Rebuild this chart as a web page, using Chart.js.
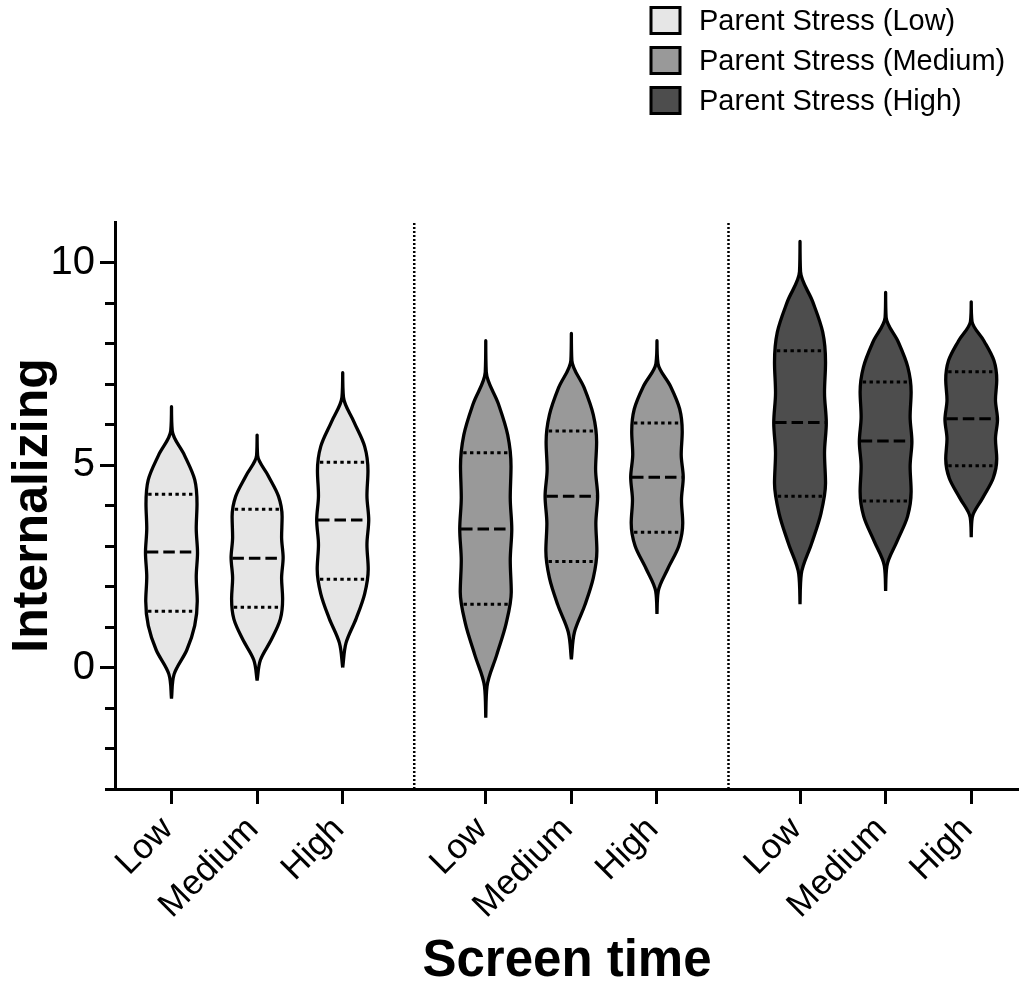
<!DOCTYPE html>
<html>
<head>
<meta charset="utf-8">
<script src="https://cdn.jsdelivr.net/npm/chart.js@4.4.1/dist/chart.umd.min.js"></script>
<style>
html, body { margin: 0; padding: 0; background: #ffffff; overflow: hidden; }
#wrap { width: 1019px; height: 984px; }
</style>
</head>
<body>
<div id="wrap"><canvas id="chart" width="1019" height="984"></canvas></div>
<script>
// ---------------- data ----------------
const groups = ['Parent Stress (Low)', 'Parent Stress (Medium)', 'Parent Stress (High)'];
const categories = ['Low', 'Medium', 'High'];
const yTickLabels = [0, 5, 10];

// order: [PS Low: ST Low, Medium, High], [PS Medium: ...], [PS High: ...]
const minimum = [-0.77, -0.32, 0.00,  -1.24, 0.20, 1.32,  1.56, 1.89, 3.22];
const q1      = [ 1.39,  1.49, 2.18,   1.56, 2.62, 3.34,  4.23, 4.11, 4.98];
const median  = [ 2.85,  2.70, 3.64,   3.42, 4.23, 4.70,  6.05, 5.59, 6.14];
const q3      = [ 4.28,  3.91, 5.07,   5.30, 5.84, 6.04,  7.82, 7.05, 7.30];
const maximum = [ 6.44,  5.74, 7.28,   8.07, 8.25, 8.07, 10.52, 9.26, 9.03];

// relative density, evenly spaced from minimum (first) to maximum (last)
const densityStressLow = [
  [0, 0.10, 0.60, 0.91, 1.01, 0.97, 1.02, 0.97, 1.00, 0.91, 0.51, 0.03, 0],
  [0, 0.13, 0.56, 0.91, 1.00, 0.96, 1.02, 0.96, 0.98, 0.84, 0.44, 0.02, 0],
  [0, 0.13, 0.53, 0.86, 1.00, 0.95, 1.02, 0.95, 0.99, 0.86, 0.44, 0.03, 0]
];
const densityStressMedium = [
  [0, 0.05, 0.43, 0.80, 1.00, 0.96, 1.02, 0.96, 0.99, 0.86, 0.49, 0.02, 0],
  [0, 0.12, 0.53, 0.86, 1.00, 0.96, 1.03, 0.95, 0.99, 0.86, 0.50, 0.02, 0],
  [0, 0.05, 0.43, 0.86, 1.01, 0.96, 1.03, 0.95, 0.99, 0.89, 0.53, 0.04, 0]
];
const densityStressHigh = [
  [0, 0.05, 0.45, 0.82, 1.00, 0.96, 1.03, 0.96, 1.00, 0.89, 0.50, 0.02, 0],
  [0, 0.05, 0.45, 0.86, 1.00, 0.96, 1.03, 0.96, 1.00, 0.87, 0.50, 0.02, 0],
  [0, 0.04, 0.45, 0.86, 1.00, 0.95, 1.03, 0.95, 1.00, 0.89, 0.50, 0.03, 0]
];
const density = [...densityStressLow, ...densityStressMedium, ...densityStressHigh];

// ---------------- style / layout ----------------
const FONT = '"Liberation Sans", Arial, Helvetica, sans-serif';
const fills = ['#e6e6e6', '#999999', '#4d4d4d'];
const GROUP_GAP = 0.671;     // extra space between groups (in category units)
const HALF_WIDTH = 0.298;    // violin half width for density 1 (x units)
const X_MIN = -0.66, X_MAX = 9.90;
const Y_MIN = -3, Y_MAX = 11;

const xPos = (g, i) => g * (3 + GROUP_GAP) + i;
const tickPositions = [];
groups.forEach((_, g) => categories.forEach((_, i) => tickPositions.push(xPos(g, i))));

function densityAt(k, v) {
  const d = density[k];
  const n = d.length - 1;
  const t = (v - minimum[k]) / (maximum[k] - minimum[k]) * n;
  const j = Math.max(0, Math.min(n - 1, Math.floor(t)));
  const f = t - j;
  return d[j] * (1 - f) + d[j + 1] * f;
}

const datasets = [];
groups.forEach((gname, g) => {
  categories.forEach((cat, i) => {
    const k = g * 3 + i;
    const cx = xPos(g, i);
    const d = density[k];
    const n = d.length - 1;
    const level = j => minimum[k] + (maximum[k] - minimum[k]) * j / n;
    const pts = [];
    for (let j = 0; j <= n; j++) pts.push({ x: cx + HALF_WIDTH * d[j], y: level(j) });
    for (let j = n - 1; j >= 0; j--) pts.push({ x: cx - HALF_WIDTH * d[j], y: level(j) });
    datasets.push({
      label: gname + ' / ' + cat,
      data: pts,
      indexAxis: 'y',
      fill: 'shape',
      backgroundColor: fills[g],
      borderColor: '#000000',
      borderWidth: 3.3,
      borderJoinStyle: 'round',
      cubicInterpolationMode: 'monotone',
      pointRadius: 0,
      order: 2
    });
    [[q1[k], [3.4, 3.4], 3], [median[k], [11.5, 5], 3], [q3[k], [3.4, 3.4], 3]].forEach(([v, dash, w]) => {
      const hw = HALF_WIDTH * densityAt(k, v) - 0.015;
      datasets.push({
        label: gname + ' / ' + cat + ' quartile',
        data: [{ x: cx - hw, y: v }, { x: cx + hw, y: v }],
        borderColor: '#000000',
        borderWidth: w,
        borderDash: dash,
        borderCapStyle: 'butt',
        pointRadius: 0,
        fill: false,
        tension: 0,
        order: 1
      });
    });
  });
});
// dotted separators between groups
for (let g = 0; g < groups.length - 1; g++) {
  const sx = (xPos(g, 2) + xPos(g + 1, 0)) / 2;
  datasets.push({
    label: 'separator',
    data: [{ x: sx, y: Y_MIN }, { x: sx, y: Y_MAX }],
    borderColor: '#000000',
    borderWidth: 2.5,
    borderDash: [2, 2],
    pointRadius: 0,
    fill: false,
    order: 3
  });
}

const legendPlugin = {
  id: 'stressLegend',
  afterDraw(chart) {
    const ctx = chart.ctx;
    ctx.save();
    groups.forEach((name, g) => {
      const cy = 20.5 + g * 40;
      ctx.fillStyle = fills[g];
      ctx.fillRect(651, cy - 13, 29, 26);
      ctx.lineWidth = 3;
      ctx.strokeStyle = '#000000';
      ctx.strokeRect(651, cy - 13, 29, 26);
      ctx.fillStyle = '#000000';
      ctx.font = '29px ' + FONT;
      ctx.textAlign = 'left';
      ctx.textBaseline = 'middle';
      ctx.fillText(name, 699, cy + 1);
    });
    ctx.restore();
  }
};

new Chart(document.getElementById('chart'), {
  type: 'line',
  data: { datasets },
  plugins: [legendPlugin],
  options: {
    responsive: false,
    animation: false,
    events: [],
    layout: { padding: { top: 222, left: 0, right: 0, bottom: 0 } },
    plugins: { legend: { display: false }, tooltip: { enabled: false }, title: { display: false } },
    scales: {
      x: {
        type: 'linear',
        min: X_MIN,
        max: X_MAX,
        position: 'bottom',
        afterBuildTicks: s => { s.ticks = tickPositions.map(v => ({ value: v })); },
        afterFit: s => { s.height = 195; },
        grid: { drawOnChartArea: false, tickLength: 15, tickWidth: 3, tickColor: '#000000' },
        border: { display: true, width: 3, color: '#000000' },
        ticks: {
          autoSkip: false,
          minRotation: 45,
          maxRotation: 45,
          padding: 5,
          labelOffset: -4,
          color: '#000000',
          font: { family: FONT, size: 35 },
          callback: (v, idx) => categories[idx % categories.length]
        },
        title: {
          display: true,
          text: 'Screen time',
          color: '#000000',
          font: { family: FONT, size: 51, weight: 'bold', lineHeight: 0.85 },
          padding: { top: 0, bottom: 0 }
        }
      },
      y: {
        type: 'linear',
        min: Y_MIN,
        max: Y_MAX,
        position: 'left',
        weight: 1,
        afterBuildTicks: s => { s.ticks = yTickLabels.map(v => ({ value: v })); },
        afterFit: s => { s.width = 115; },
        grid: { drawOnChartArea: false, tickLength: 15, tickWidth: 3, tickColor: '#000000' },
        border: { display: true, width: 3, color: '#000000' },
        ticks: { padding: 5, color: '#000000', font: { family: FONT, size: 40 } },
        title: {
          display: true,
          text: 'Internalizing',
          color: '#000000',
          font: { family: FONT, size: 50, weight: 'bold' },
          padding: { top: 3, bottom: 0 }
        }
      },
      yMinor: {
        type: 'linear',
        min: Y_MIN,
        max: Y_MAX,
        position: 'left',
        weight: 0,
        afterBuildTicks: s => { s.ticks = s.ticks.filter(t => t.value <= 10); },
        afterFit: s => { s.width = 0; },
        grid: { drawOnChartArea: false, tickLength: 10, tickWidth: 3, tickColor: '#000000' },
        border: { display: true, width: 3, color: '#000000' },
        ticks: { display: false, stepSize: 1 }
      }
    }
  }
});
</script>
</body>
</html>
